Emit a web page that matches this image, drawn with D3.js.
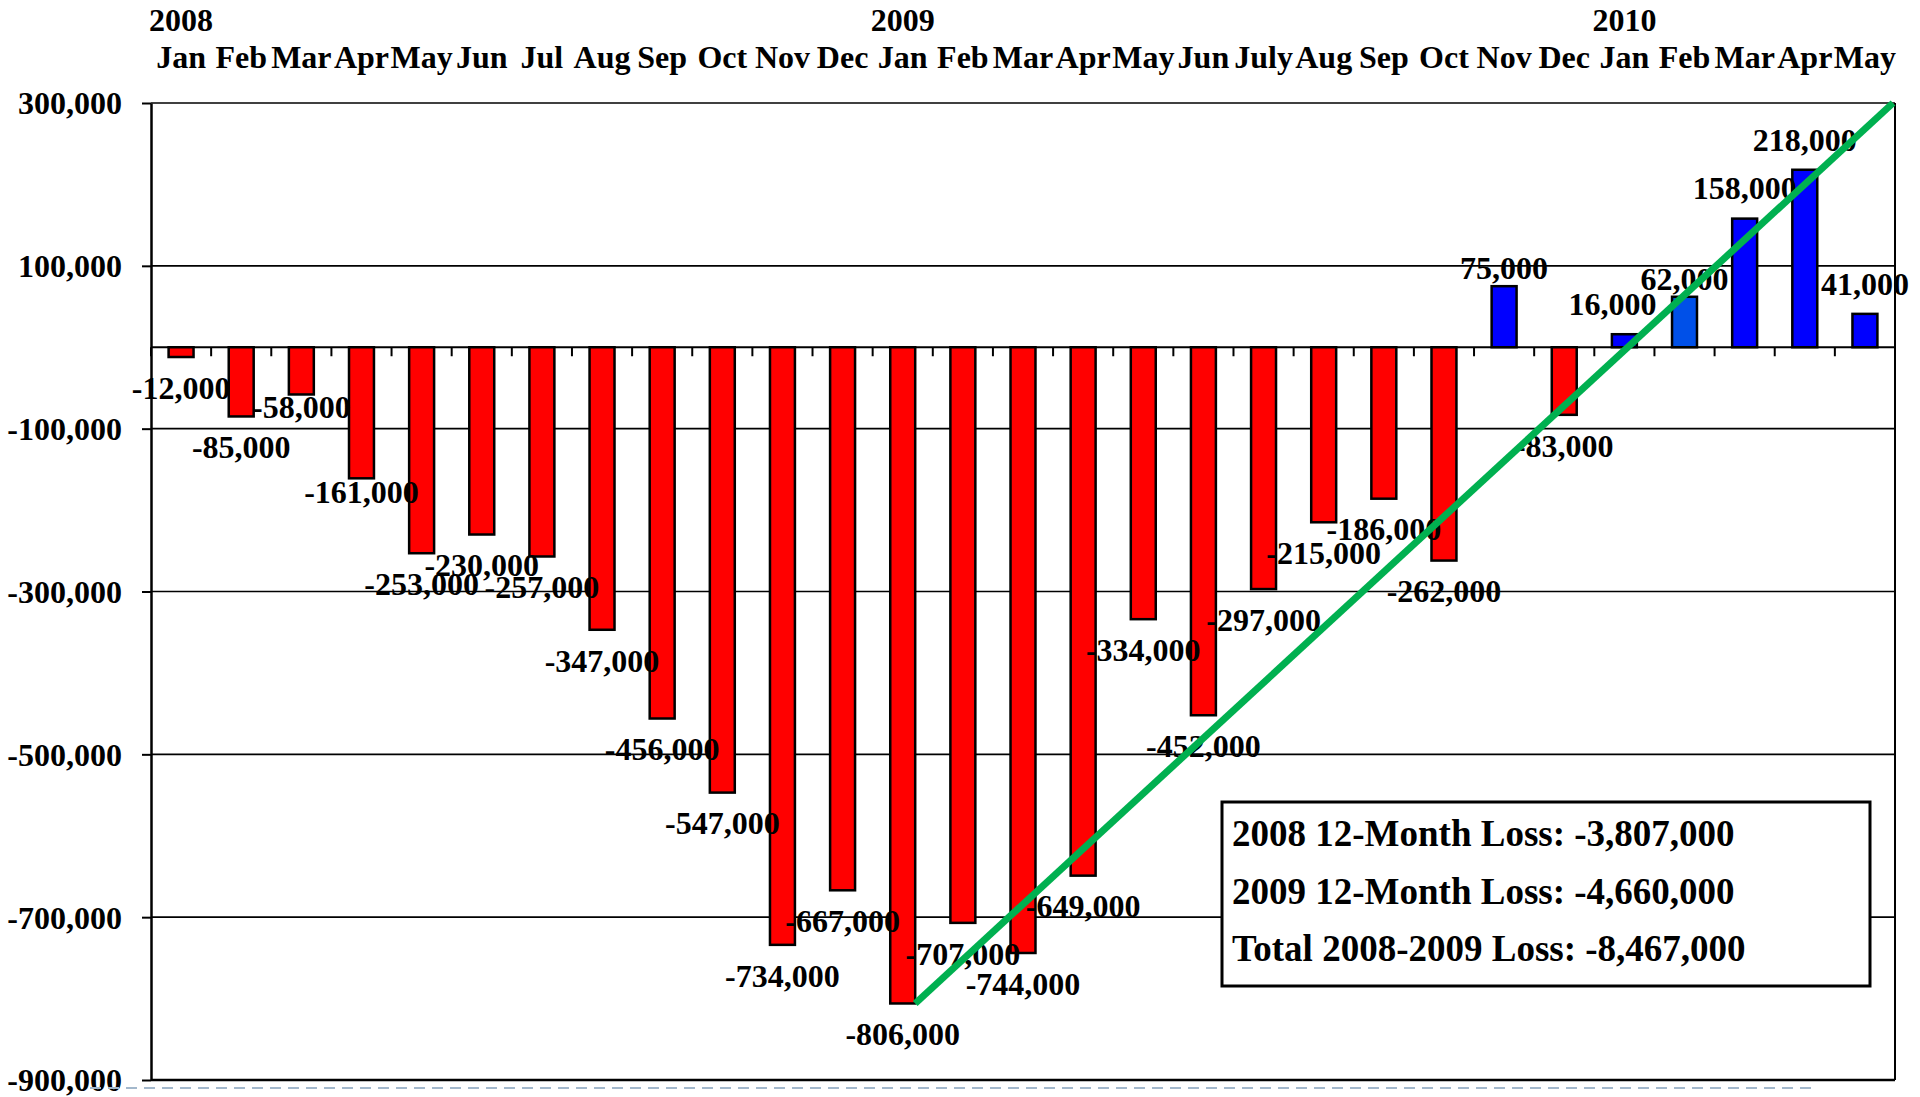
<!DOCTYPE html>
<html>
<head>
<meta charset="utf-8">
<script src="https://cdn.jsdelivr.net/npm/d3@7/dist/d3.min.js"></script>
<style>
  html, body { margin: 0; padding: 0; background: #ffffff; }
  svg { display: block; }
  text { font-family: "Liberation Serif", "Times New Roman", serif; font-weight: bold; fill: #000; }
</style>
</head>
<body>
<svg id="chart" width="1920" height="1097"></svg>
<script>
// ---------- DATA ----------
const months = ["Jan","Feb","Mar","Apr","May","Jun","Jul","Aug","Sep","Oct","Nov","Dec",
                "Jan","Feb","Mar","Apr","May","Jun","July","Aug","Sep","Oct","Nov","Dec",
                "Jan","Feb","Mar","Apr","May"];
const yearLabels = ["2008","2009","2010"];
const yearStartIndex = [0, 12, 24];
const jobChanges = [-12000,-85000,-58000,-161000,-253000,-230000,-257000,-347000,-456000,-547000,-734000,-667000,
                    -806000,-707000,-744000,-649000,-334000,-452000,-297000,-215000,-186000,-262000,75000,-83000,
                    16000,62000,158000,218000,41000];
const yTicks = [300000,100000,-100000,-300000,-500000,-700000,-900000];
const summaryLines = ["2008 12-Month Loss: -3,807,000",
                      "2009 12-Month Loss: -4,660,000",
                      "Total 2008-2009 Loss: -8,467,000"];
// trend line: from Jan 2009 low to top of scale at May 2010
const trendIndex = [12, 28];
const trendValue = [-806000, 300000];

(function () {
// ---------- LAYOUT / STYLE ----------
const barColors = jobChanges.map((v, i) => v < 0 ? "#FF0000" : (i === 25 ? "#0050E8" : "#0000FF"));
const labelNudgeX = jobChanges.map(() => 0);
const labelNudgeY = jobChanges.map(() => 0);
labelNudgeY[2] = -18; labelNudgeY[3] = -17; labelNudgeY[22] = 12; labelNudgeY[25] = 12;
labelNudgeX[24] = -12;

const pLeft = 151, pRight = 1895, pTop = 103, pBottom = 1080;
const fs = 32;
const svg = d3.select("#chart");
const loc = d3.formatLocale({decimal: ".", thousands: ",", grouping: [3], currency: ["$", ""], minus: "-"});
const fmt = loc.format(",");

const x = d3.scaleBand().domain(d3.range(months.length)).range([pLeft, pRight]).padding(0);
const y = d3.scaleLinear().domain([-900000, 300000]).range([pBottom, pTop]);
const bw = x.bandwidth();
const barW = bw * 0.415;
const y0 = y(0);

// gridlines
svg.append("g").selectAll("line").data(yTicks).join("line")
  .attr("x1", pLeft).attr("x2", pRight)
  .attr("y1", d => y(d)).attr("y2", d => y(d))
  .attr("stroke", "#000").attr("stroke-width", 1.6);

// left axis
const yAxis = d3.axisLeft(y).tickValues(yTicks).tickSize(9).tickSizeOuter(0).tickPadding(20).tickFormat(fmt);
const ga = svg.append("g").attr("transform", `translate(${pLeft},0)`).call(yAxis);
ga.select(".domain").attr("stroke", "#000").attr("stroke-width", 2.5);
ga.selectAll(".tick line").attr("stroke", "#000").attr("stroke-width", 2);
ga.selectAll(".tick text").attr("font-size", fs).attr("font-family", null).attr("dy", "0.34em");

// right & bottom border
svg.append("line").attr("x1", pRight).attr("x2", pRight).attr("y1", pTop).attr("y2", pBottom)
  .attr("stroke", "#000").attr("stroke-width", 2);
svg.append("line").attr("x1", pLeft).attr("x2", pRight).attr("y1", pBottom).attr("y2", pBottom)
  .attr("stroke", "#000").attr("stroke-width", 2.5);

// zero (category) axis with ticks at band boundaries
svg.append("line").attr("x1", pLeft).attr("x2", pRight).attr("y1", y0).attr("y2", y0)
  .attr("stroke", "#000").attr("stroke-width", 2);
svg.append("g").selectAll("line").data(d3.range(months.length + 1)).join("line")
  .attr("x1", d => pLeft + d * bw).attr("x2", d => pLeft + d * bw)
  .attr("y1", y0).attr("y2", y0 + 9)
  .attr("stroke", "#000").attr("stroke-width", 2);

// bars
svg.append("g").selectAll("rect").data(jobChanges).join("rect")
  .attr("x", (d, i) => x(i) + (bw - barW) / 2)
  .attr("width", barW)
  .attr("y", d => Math.min(y(d), y0))
  .attr("height", d => Math.abs(y(d) - y0))
  .attr("fill", (d, i) => barColors[i])
  .attr("stroke", "#000").attr("stroke-width", 2.5);

// data labels
svg.append("g").selectAll("text").data(jobChanges).join("text")
  .attr("x", (d, i) => x(i) + bw / 2 + labelNudgeX[i])
  .attr("y", (d, i) => (d < 0 ? y(d) + 31 : y(d) - 30) + labelNudgeY[i] + 10.8)
  .attr("text-anchor", "middle").attr("font-size", fs)
  .text(d => fmt(d));

// top month labels
svg.append("g").selectAll("text").data(months).join("text")
  .attr("x", (d, i) => x(i) + bw / 2).attr("y", 68)
  .attr("text-anchor", "middle").attr("font-size", fs)
  .text(d => d);
// year labels
svg.append("g").selectAll("text").data(yearLabels).join("text")
  .attr("x", (d, i) => x(yearStartIndex[i]) + bw / 2).attr("y", 31)
  .attr("text-anchor", "middle").attr("font-size", fs)
  .text(d => d);

// trend line
svg.append("line")
  .attr("x1", x(trendIndex[0]) + (bw + barW) / 2).attr("y1", y(trendValue[0]))
  .attr("x2", x(trendIndex[1]) + bw - 2).attr("y2", y(trendValue[1]))
  .attr("stroke", "#00B050").attr("stroke-width", 7);

// summary box
const box = svg.append("g");
box.append("rect").attr("x", 1222).attr("y", 802).attr("width", 648).attr("height", 184)
  .attr("fill", "#fff").attr("stroke", "#000").attr("stroke-width", 3);
box.selectAll("text").data(summaryLines).join("text")
  .attr("x", 1232).attr("y", (d, i) => 846 + i * 57.5)
  .attr("font-size", 37).text(d => d);

// slide placeholder dashed line
svg.append("line").attr("x1", 90).attr("x2", 1813).attr("y1", 1088).attr("y2", 1088)
  .attr("stroke", "#a3b8cc").attr("stroke-width", 2).attr("stroke-dasharray", "11,7");
})();
</script>
</body>
</html>
